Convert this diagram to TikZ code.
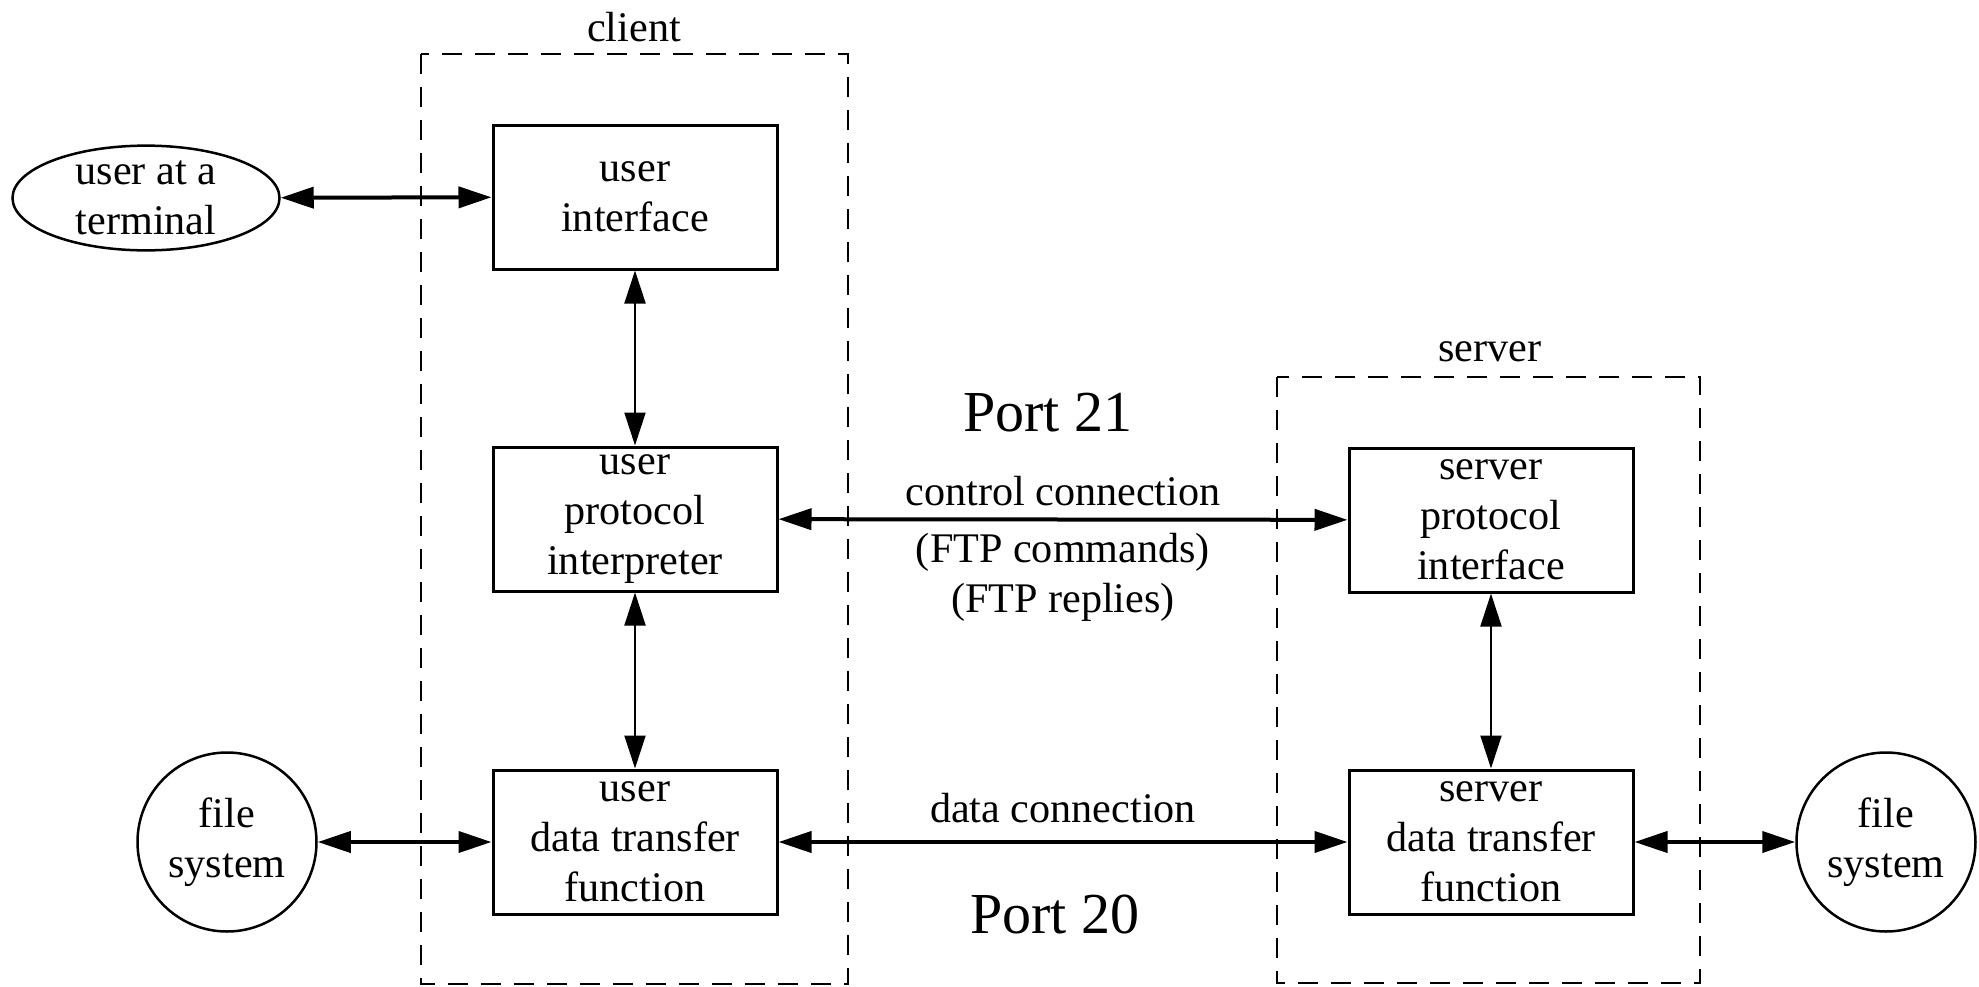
\documentclass[tikz,border=0pt]{standalone}
\usepackage{fontspec}
\setmainfont{Liberation Serif}
\usetikzlibrary{arrows.meta,shapes.geometric}

\tikzset{
	blk/.style={draw, line width=0.3mm, minimum width=2.84cm, minimum height=1.44cm, inner sep=0pt, align=center},
	grp/.style={line width=0.22mm, dash pattern=on 2mm off 1.3mm},
	biarrow/.style={{Triangle[length=3.3mm,width=2.1mm]}-{Triangle[length=3.3mm,width=2.1mm]}},
	hconn/.style={biarrow, line width=0.4mm},
	vconn/.style={biarrow, line width=0.2mm},
	portlbl/.style={font=\fontsize{16.5}{20}\selectfont}
}

\begin{document}
\begin{tikzpicture}[font=\fontsize{12}{14.2}\selectfont]
			%%%%% START %%%%%
			\useasboundingbox (0, 0) rectangle (19.79, -9.87);
			
			% client side
			\draw[grp] (4.21, -0.54) rectangle (8.48, -9.84);
			\node (clientlbl) at (6.34, -0.27) {client};
			
			\node[draw, ellipse, line width=0.25mm, inner sep=0pt, minimum width=2.67cm, minimum height=1.03cm, align=center] (term) at (1.46, -1.98) {user at a\\terminal};
			\node[blk] (ui) at (6.35, -1.97) {user\\interface};
			\node[blk] (upi) at (6.35, -5.19) {user\\protocol\\interpreter};
			\node[blk] (udt) at (6.35, -8.42) {user\\data transfer\\function};
			\node[draw, circle, line width=0.25mm, inner sep=0pt, minimum size=1.79cm, align=center] (fsl) at (2.27, -8.42) {file\\system};
			
			% server side
			\draw[grp] (12.77, -3.77) rectangle (17.00, -9.83);
			\node (serverlbl) at (14.90, -3.52) {server};
			
			\node[blk] (spi) at (14.91, -5.20) {server\\protocol\\interface};
			\node[blk] (sdt) at (14.91, -8.42) {server\\data transfer\\function};
			\node[draw, circle, line width=0.25mm, inner sep=0pt, minimum size=1.79cm, align=center] (fsr) at (18.86, -8.42) {file\\system};
			
			\node[portlbl] (p21) at (10.48, -4.13) {Port 21};
			\node[portlbl] (p20) at (10.55, -9.14) {Port 20};
			
			% connections
			\draw[hconn] (term) -- (ui);
			\draw[vconn] (ui) -- (upi);
			\draw[vconn] (upi) -- (udt);
			\draw[vconn] (spi) -- (sdt);
			\draw[hconn] (upi) -- node[above] (ctrl) {control connection}
				node[below, align=center] (ftp) {(FTP commands)\\(FTP replies)} (spi);
			\draw[hconn] (udt) -- node[above, inner sep=5pt] (dat) {data connection} (sdt);
			\draw[hconn] (fsl) -- (udt);
			\draw[hconn] (sdt) -- (fsr);
			
			%%%%% END %%%%%
		\end{tikzpicture}
\end{document}
